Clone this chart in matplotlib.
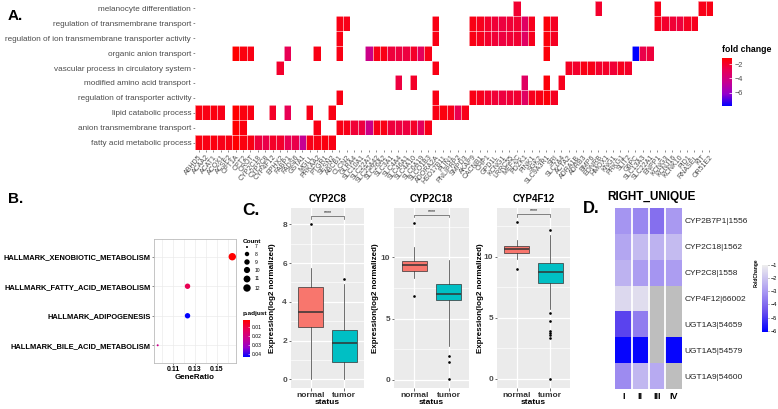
import numpy as np
import matplotlib
matplotlib.use("Agg")
import matplotlib.pyplot as plt
from matplotlib.colors import LinearSegmentedColormap, Normalize
from matplotlib.cm import ScalarMappable

plt.rcParams["font.family"] = ["Liberation Sans", "DejaVu Sans"]

W, H = 778, 409
fig = plt.figure(figsize=(W / 100, H / 100), dpi=100)
GRAY30 = "#4D4D4D"


def box(x0, y0, x1, y1):
    # axes from pixel box (top-left origin)
    return fig.add_axes([x0 / W, 1 - y1 / H, (x1 - x0) / W, (y1 - y0) / H])


def ftext(x, y, s, **kw):
    fig.text(x / W, 1 - y / H, s, **kw)


# ---------------- data ----------------
go_terms = ["melanocyte differentiation",
            "regulation of transmembrane transport",
            "regulation of ion transmembrane transporter activity",
            "organic anion transport",
            "vascular process in circulatory system",
            "modified amino acid transport",
            "regulation of transporter activity",
            "lipid catabolic process",
            "anion transmembrane transport",
            "fatty acid metabolic process"]

genes = ["ABHD5", "ACAA2", "ACAT1", "ACOX1", "ACSF2", "CPT1A", "CPT2", "CROT",
         "CYP2C18", "CYP2C8", "CYP4F12", "EPHX2", "FABP1", "FADS6", "GSTA1",
         "MGLL", "PRKAA2", "PTGR1", "SESN2", "ABCB1", "CLCN2", "GLRA4",
         "SLC10A1", "SLC22A7", "SLC25A42", "SLC26A2", "SLC3A1", "SLC4A4",
         "SLC46A1", "SLC4A10", "SLC6A19", "SLCO1B3", "ADORA2A", "HSD17B11",
         "PLIN1", "PNLIPRP2", "SMPD3", "AKAP9", "CACNB1", "CHP1", "GPD1L",
         "KCNG1", "LRRC55", "MEF2C", "PDZK1", "PINK1", "SGK2", "SLC9A3R1",
         "SRI", "SLC7A4", "ACTA2", "ADRA1B", "ADRB3", "BMP6", "EDNRB", "HMOX1",
         "KNG1", "PRKG1", "SLIT2", "G6PC", "SLC13A3", "SLC22A1", "ENPP1",
         "KCNG3", "KCNJ16", "KCNK10", "PID1", "RNASEL", "KIT", "OR51E2"]

gene_fc = [-1.4, -1.5, -1.4, -1.6, -1.5, -1.1, -1.4, -1.5,
           -2.3, -2.6, -1.9, -2.0, -2.8, -2.6, -4.6,
           -1.6, -1.5, -1.4, -1.5, -1.5, -1.6, -2.2,
           -2.4, -4.3, -1.6, -1.5, -2.3, -2.4,
           -2.4, -1.9, -3.0, -1.6, -1.5, -1.4,
           -1.6, -2.7, -1.6, -1.5, -1.7, -2.0, -2.2,
           -2.4, -2.2, -2.1, -3.2, -1.7, -1.5, -1.3,
           -1.8, -1.7, -1.8, -2.0, -1.5, -1.6, -2.0, -1.9,
           -2.2, -1.7, -1.9, -7.9, -2.6, -2.3, -1.6,
           -2.0, -2.2, -2.3, -1.8, -1.7, -1.6, -1.5]

melanocyte = ["MEF2C", "EDNRB", "ENPP1", "KIT", "OR51E2"]
reg_tm = ["ABCB1", "CLCN2", "ADORA2A", "AKAP9", "CACNB1", "CHP1", "GPD1L",
          "KCNG1", "LRRC55", "MEF2C", "PDZK1", "PINK1", "SLC9A3R1", "SRI",
          "ENPP1", "KCNG3", "KCNJ16", "KCNK10", "PID1", "RNASEL"]
reg_ion = ["ABCB1", "ADORA2A", "AKAP9", "CACNB1", "CHP1", "GPD1L", "KCNG1",
           "LRRC55", "MEF2C", "PDZK1", "PINK1", "SLC9A3R1", "SRI"]
org_anion = ["CPT1A", "CPT2", "CROT", "FABP1", "PRKAA2", "ABCB1", "SLC22A7",
             "SLC25A42", "SLC26A2", "SLC3A1", "SLC4A4", "SLC46A1", "SLC4A10",
             "SLC6A19", "SLCO1B3", "SLC9A3R1", "G6PC", "SLC13A3", "SLC22A1"]
vascular = ["EPHX2", "ADORA2A", "ACTA2", "ADRA1B", "ADRB3", "BMP6", "EDNRB",
            "HMOX1", "KNG1", "PRKG1", "SLIT2"]
mod_amino = ["SLC4A4", "SLC4A10", "PDZK1", "SLC9A3R1", "SLC7A4"]
reg_transporter = ["ABCB1", "ADORA2A", "AKAP9", "CACNB1", "CHP1", "GPD1L",
                   "KCNG1", "LRRC55", "MEF2C", "PDZK1", "PINK1", "SGK2",
                   "SLC9A3R1", "SRI"]
lipid_cat = ["ABHD5", "ACAA2", "ACAT1", "ACOX1", "CPT1A", "CPT2", "CROT",
             "CYP4F12", "FABP1", "MGLL", "SESN2", "ADORA2A", "HSD17B11",
             "PLIN1", "PNLIPRP2", "SMPD3"]
anion_tm = ["CPT1A", "CPT2", "PRKAA2", "ABCB1", "CLCN2", "GLRA4", "SLC10A1",
            "SLC22A7", "SLC25A42", "SLC26A2", "SLC3A1", "SLC4A4", "SLC46A1",
            "SLC4A10", "SLC6A19", "SLCO1B3"]
fatty_acid = ["ABHD5", "ACAA2", "ACAT1", "ACOX1", "ACSF2", "CPT1A", "CPT2",
              "CROT", "CYP2C18", "CYP2C8", "CYP4F12", "EPHX2", "FABP1",
              "FADS6", "GSTA1", "MGLL", "PRKAA2", "PTGR1", "SESN2"]
term_genes = [melanocyte, reg_tm, reg_ion, org_anion, vascular, mod_amino,
              reg_transporter, lipid_cat, anion_tm, fatty_acid]

# B
hallmarks = ["HALLMARK_BILE_ACID_METABOLISM", "HALLMARK_ADIPOGENESIS",
             "HALLMARK_FATTY_ACID_METABOLISM", "HALLMARK_XENOBIOTIC_METABOLISM"]
hm_count = [7, 9, 9, 12]
hm_ratio = [7 / 73, 9 / 73, 9 / 73, 12 / 73]
hm_padj = [0.022, 0.0433, 0.0125, 0.0026]

# C
box_genes = ["CYP2C8", "CYP2C18", "CYP4F12"]
status = ["normal", "tumor"]
box_stats = {
    "CYP2C8": [dict(med=3.49, q1=2.68, q3=4.78, whislo=0.0, whishi=5.73, fliers=[8.0]),
               dict(med=1.89, q1=0.88, q3=2.53, whislo=0.0, whishi=4.9, fliers=[5.16])],
    "CYP2C18": [dict(med=9.4, q1=8.86, q3=9.67, whislo=8.31, whishi=10.84, fliers=[12.8, 6.81]),
                dict(med=7.0, q1=6.49, q3=7.82, whislo=2.72, whishi=9.81, fliers=[1.91, 1.44, 0.05])],
    "CYP4F12": [dict(med=10.64, q1=10.33, q3=10.88, whislo=9.8, whishi=11.38, fliers=[12.85, 9.03]),
                dict(med=8.76, q1=7.85, q3=9.45, whislo=5.7, whishi=11.8,
                     fliers=[12.2, 5.35, 4.7, 3.9, 3.75, 3.55, 3.35, 0.0])],
}
box_ylims = {"CYP2C8": (-0.45, 8.84), "CYP2C18": (-0.68, 14.04), "CYP4F12": (-0.77, 14.0)}
box_major = {"CYP2C8": [0, 2, 4, 6, 8], "CYP2C18": [0, 5, 10], "CYP4F12": [0, 5, 10]}
box_minor = {"CYP2C8": [1, 3, 5, 7], "CYP2C18": [2.5, 7.5, 12.5], "CYP4F12": [2.5, 7.5, 12.5]}
bracket_y = {"CYP2C8": 8.42, "CYP2C18": 13.5, "CYP4F12": 13.5}

# D
d_genes = ["CYP2B7P1|1556", "CYP2C18|1562", "CYP2C8|1558", "CYP4F12|66002",
           "UGT1A3|54659", "UGT1A5|54579", "UGT1A9|54600"]
d_groups = ["I", "II", "III", "IV"]
nan = np.nan
d_fc = [[-3.1, -3.4, -3.9, -3.0],
        [-2.7, -2.2, -2.4, -2.2],
        [-2.4, -2.9, -3.1, -2.9],
        [-1.5, -1.4, nan, nan],
        [-4.8, -3.6, nan, nan],
        [-6.0, -6.0, nan, -6.0],
        [-3.3, -2.3, -2.6, nan]]

# ---------------- A. heatmap ----------------
cmap_rb = LinearSegmentedColormap.from_list(
    "rb", ["#0000FF", "#9400CC", "#C8008F", "#E80055", "#FF0000"])
normA = Normalize(min(gene_fc), max(gene_fc))
fc_of = dict(zip(genes, gene_fc))
mat = np.full((len(go_terms), len(genes)), np.nan)
for i, members in enumerate(term_genes):
    for g in members:
        mat[i, genes.index(g)] = fc_of[g]

axA = box(195, 1, 713, 150)
axA.imshow(mat, cmap=cmap_rb, norm=normA, aspect="auto", interpolation="nearest")
axA.vlines(np.arange(-0.5, len(genes)), -0.5, len(go_terms) - 0.5, color="white", lw=0.4)
axA.hlines(np.arange(-0.5, len(go_terms)), -0.5, len(genes) - 0.5, color="white", lw=0.4)
axA.set_xlim(-0.5, len(genes) - 0.5)
axA.set_ylim(len(go_terms) - 0.5, -0.5)
axA.set_yticks(range(len(go_terms)))
axA.set_yticklabels(go_terms, fontsize=5.9, color=GRAY30)
axA.set_xticks(range(len(genes)))
axA.set_xticklabels(genes, rotation=50, ha="right", rotation_mode="anchor",
                    fontsize=5.0, color=GRAY30)
axA.tick_params(length=1.5, width=0.4, pad=1.2, color="#333333")
for s in axA.spines.values():
    s.set_visible(False)

caxA = box(722, 58, 732, 106)
cbA = fig.colorbar(ScalarMappable(norm=normA, cmap=cmap_rb), cax=caxA)
cbA.set_ticks([-2, -4, -6])
cbA.outline.set_visible(False)
caxA.tick_params(length=2, width=0.5, color="white", direction="in",
                 labelcolor=GRAY30, labelsize=5.3, pad=2)
ftext(722, 52, "fold change", fontsize=6.3, fontweight="bold")

# ---------------- B. dot plot ----------------
axB = box(154, 239, 236, 363)
normB = Normalize(0.0026, 0.0433)
cmap_br = cmap_rb.reversed()


def dot_size(c):
    d_px = 2.0 + 5.4 * np.sqrt((np.asarray(c, float) - 7) / 5)
    return (d_px * 0.72) ** 2


ypos = np.arange(1, len(hallmarks) + 1)
axB.scatter(hm_ratio, ypos, s=dot_size(hm_count), c=hm_padj, cmap=cmap_br,
            norm=normB, zorder=3, clip_on=False, linewidths=0)
axB.set_xlim(0.0925, 0.1678)
axB.set_ylim(0.4, 4.6)
axB.set_xticks([0.11, 0.13, 0.15])
axB.set_xticklabels(["0.11", "0.13", "0.15"], fontsize=5.0, fontweight="bold")
axB.set_xticks([0.10, 0.12, 0.14, 0.16], minor=True)
axB.set_yticks(ypos)
axB.set_yticklabels(hallmarks, fontsize=5.4, fontweight="bold")
axB.grid(which="both", color="#EBEBEB", lw=0.5)
axB.set_axisbelow(True)
axB.tick_params(length=1.5, width=0.4, pad=1.0, color="#333333")
axB.tick_params(which="minor", length=0)
for s in axB.spines.values():
    s.set_color("#BBBBBB")
    s.set_linewidth(0.6)
ftext(195, 377.5, "GeneRatio", fontsize=5.8, fontweight="bold", ha="center", va="center")

# legends for B (drawn on an overlay in pixel coordinates)
ov = fig.add_axes([0, 0, 1, 1])
ov.set_xlim(0, W)
ov.set_ylim(H, 0)
ov.axis("off")
ov.patch.set_visible(False)

legend_counts = [7, 8, 9, 10, 11, 12]
legend_y = [247, 254, 262, 270, 279, 288]
ftext(243, 242, "Count", fontsize=4.6, fontweight="bold", va="center")
ov.scatter([247] * len(legend_counts), legend_y, s=dot_size(legend_counts),
           color="black", linewidths=0)
for c, y in zip(legend_counts, legend_y):
    ftext(255, y, str(c), fontsize=3.6, va="center")
ftext(243, 314, "p.adjust", fontsize=4.6, fontweight="bold", va="center")
caxB = box(243, 320, 250, 357)
cbB = fig.colorbar(ScalarMappable(norm=normB, cmap=cmap_br), cax=caxB)
caxB.invert_yaxis()
cbB.set_ticks([0.01, 0.02, 0.03, 0.04])
cbB.outline.set_visible(False)
caxB.tick_params(length=1.2, width=0.4, color="white", direction="in",
                 labelsize=3.6, pad=1.5)

# ---------------- C. box plots ----------------
panels_c = {"CYP2C8": (291, 364), "CYP2C18": (394, 469), "CYP4F12": (497, 570)}
ylab_x = {"CYP2C8": 273, "CYP2C18": 375.5, "CYP4F12": 480}
fills = ["#F8766D", "#00BFC4"]
for g in box_genes:
    x0, x1 = panels_c[g]
    ax = box(x0, 208, x1, 388)
    ax.set_facecolor("#EBEBEB")
    bp = ax.bxp(box_stats[g], positions=[1, 2], widths=0.75, patch_artist=True,
                showcaps=False,
                boxprops=dict(edgecolor="#333333", linewidth=0.5),
                medianprops=dict(color="#333333", linewidth=1.1),
                whiskerprops=dict(color="#333333", linewidth=0.5),
                flierprops=dict(marker="o", markersize=1.9, markerfacecolor="black",
                                markeredgecolor="none"))
    for patch, col in zip(bp["boxes"], fills):
        patch.set_facecolor(col)
    ax.set_xlim(0.4, 2.6)
    ax.set_ylim(*box_ylims[g])
    ax.set_yticks(box_major[g])
    ax.set_yticks(box_minor[g], minor=True)
    ax.set_yticklabels([str(v) for v in box_major[g]], fontsize=6,
                       fontweight="bold", color=GRAY30)
    ax.set_xticks([1, 2])
    ax.set_xticklabels(status, fontsize=6, fontweight="bold", color="#333333")
    ax.grid(which="major", color="white", lw=0.9)
    ax.grid(which="minor", axis="y", color="white", lw=0.45)
    ax.set_axisbelow(True)
    ax.tick_params(length=1.8, width=0.5, pad=1.0, color="#333333")
    ax.tick_params(which="minor", length=0)
    for s in ax.spines.values():
        s.set_visible(False)
    # significance bracket
    yb = bracket_y[g]
    yr = box_ylims[g][1] - box_ylims[g][0]
    ax.plot([1, 1, 2, 2], [yb - 0.015 * yr, yb, yb, yb - 0.015 * yr],
            color="#555555", lw=0.5, clip_on=False)
    ax.text(1.5, yb + 0.005 * yr, "****", fontsize=3.8, ha="center", va="bottom")
    ftext((x0 + x1) / 2, 199, g, fontsize=7, fontweight="bold", ha="center", va="center")
    ftext(ylab_x[g], 298, "Expression(log2 normalized)", fontsize=5.8,
          fontweight="bold", rotation=90, ha="center", va="center")
    ftext((x0 + x1) / 2, 403, "status", fontsize=6, fontweight="bold",
          ha="center", va="center")

# ---------------- D. heatmap ----------------
cmap_d = LinearSegmentedColormap.from_list(
    "d", [(0.0, "#0000FF"), (0.3, "#6A50EC"), (0.6, "#A898F2"), (1.0, "#EEEEEE")])
cmap_d.set_bad("#BEBEBE")
normD = Normalize(-6.1, -1)
axD = box(615, 208, 682, 389)
axD.imshow(np.ma.masked_invalid(np.array(d_fc)), cmap=cmap_d, norm=normD,
           aspect="auto", interpolation="nearest")
axD.vlines([0.5, 1.5, 2.5], -0.5, len(d_genes) - 0.5, color="white", lw=1.3)
axD.set_xlim(-0.5, len(d_groups) - 0.5)
axD.set_ylim(len(d_genes) - 0.5, -0.5)
axD.yaxis.tick_right()
axD.set_yticks(range(len(d_genes)))
axD.set_yticklabels(d_genes, fontsize=6, color="#222222")
axD.set_xticks(range(len(d_groups)))
axD.set_xticklabels(d_groups, fontsize=6.5, fontweight="bold")
axD.tick_params(length=0, pad=2)
for s in axD.spines.values():
    s.set_visible(False)
ftext(651, 197, "RIGHT_UNIQUE", fontsize=8.5, fontweight="bold", ha="center", va="center")

caxD = box(762, 265, 768, 332)
cbD = fig.colorbar(ScalarMappable(norm=normD, cmap=cmap_d), cax=caxD)
cbD.set_ticks([-1, -2, -3, -4, -5, -6])
cbD.outline.set_visible(False)
caxD.tick_params(length=1, width=0.4, color="#333333", labelsize=4, pad=1)
ftext(756, 273, "FoldChange", fontsize=3.5, fontweight="bold", rotation=90,
      ha="center", va="center")

# ---------------- panel letters ----------------
for lab, x, y, fs in [("A.", 8, 20, 11), ("B.", 8, 203, 11), ("C.", 242, 215, 12.5),
                      ("D.", 583, 213, 12)]:
    ftext(x, y, lab, fontsize=fs, fontweight="bold", va="baseline")

fig.savefig("out.png", dpi=100)
